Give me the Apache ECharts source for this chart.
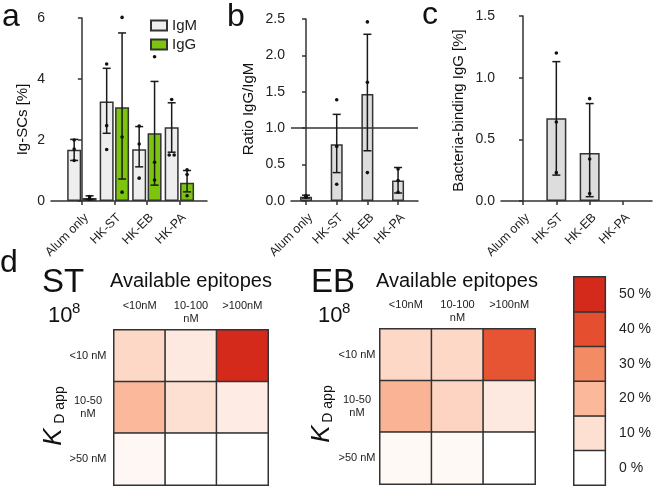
<!DOCTYPE html>
<html>
<head>
<meta charset="utf-8">
<script src="https://cdn.jsdelivr.net/npm/echarts@6/dist/echarts.min.js"></script>
<style>
  html, body { margin: 0; padding: 0; background: #fff; }
  #chart { width: 654px; height: 486px; }
</style>
</head>
<body>
<div id="chart"></div>
<script>
const cats = ['Alum only', 'HK-ST', 'HK-EB', 'HK-PA'];

// a: Ig-SCs [%]
const igmMean = [1.68, 3.26, 1.70, 2.42];
const igmLow = [1.33, 2.22, 1.12, 1.60];
const igmHigh = [2.02, 4.35, 2.44, 3.22];
const igmDots = [[2.0, 1.70, 1.33], [4.49, 2.47, 1.69], [2.46, 1.87, 0.75], [3.33, 1.51, 1.51]];
const iggMean = [0.10, 3.07, 2.22, 0.60];
const iggLow = [0.05, 0.72, 0.52, 0.30];
const iggHigh = [0.17, 5.51, 3.92, 1.00];
const iggDots = [[0.15, 0.09, 0.06], [6.02, 2.10, 0.29], [4.73, 1.27, 0.69], [1.02, 0.87, 0.17]];

// b: ratio IgG/IgM
const ratioMean = [0.06, 0.78, 1.47, 0.28];
const ratioLow = [0.04, 0.39, 0.69, 0.11];
const ratioHigh = [0.08, 1.19, 2.29, 0.46];
const ratioDots = [[0.07, 0.06, 0.05], [1.39, 0.75, 0.23], [2.46, 1.63, 0.39], [0.44, 0.28, 0.12]];
const ratioRef = 1;

// c: bacteria-binding IgG [%]
const bindMean = [null, 0.67, 0.39, null];
const bindLow = [null, 0.21, 0.035, null];
const bindHigh = [null, 1.13, 0.79, null];
const bindDots = [[], [1.20, 0.64, 0.23], [0.83, 0.34, 0.06], []];

// d: heatmaps (% of clones)
const epitopeBins = ['<10nM', '10-100\nnM', '>100nM'];
const kdBins = ['<10 nM', '10-50\nnM', '>50 nM'];
const stPct = [[12, 7, 50], [20, 10, 6], [2.5, 0, 0]];
const ebPct = [[12, 12, 39], [21, 13, 7], [2, 2, 0]];
const scaleTicks = [0, 10, 20, 30, 40, 50];
const scaleLabels = ['0 %', '10 %', '20 %', '30 %', '40 %', '50 %'];

const FONT = '"Liberation Sans", Arial, sans-serif';
const INK = '#333';
const lineStyle = { color: INK, width: 1.5 };

const chart = echarts.init(document.getElementById('chart'));

function catX(gridIndex, min, max) {
  return {
    type: 'value', gridIndex, min, max,
    axisLine: { show: true, onZero: false, lineStyle },
    axisTick: { show: true, length: 4, customValues: [0, 1, 2, 3], lineStyle },
    axisLabel: {
      customValues: [0, 1, 2, 3], formatter: v => cats[v],
      rotate: 45, margin: 10, verticalAlign: 'top',
      fontSize: 12.5, color: '#222', fontFamily: FONT
    },
    splitLine: { show: false }
  };
}

function valY(gridIndex, max, interval, digits) {
  return {
    type: 'value', gridIndex, min: 0, max, interval,
    axisLine: { show: true, lineStyle },
    axisTick: { show: true, length: 4, lineStyle },
    axisLabel: {
      margin: 6, fontSize: 14, color: '#222', fontFamily: FONT,
      formatter: v => v.toFixed(digits)
    },
    splitLine: { show: false }
  };
}

function bars(name, idx, mean, color, width) {
  return {
    name, type: 'bar', xAxisIndex: idx, yAxisIndex: idx,
    barWidth: width, barGap: '10%',
    itemStyle: { color, borderColor: INK, borderWidth: 1.5 },
    data: mean.map((v, i) => [i, v]).filter(d => d[1] != null)
  };
}

// error bar + individual dots, shifted sideways in px to sit on its bar
function errs(idx, low, high, dots, shift) {
  return {
    type: 'custom', xAxisIndex: idx, yAxisIndex: idx, z: 5,
    encode: { x: 0, y: [1, 2] },
    data: low.map((v, i) => [i, v, high[i]]).filter(d => d[1] != null),
    renderItem(params, api) {
      const i = api.value(0);
      const top = api.coord([i, api.value(2)]);
      const bot = api.coord([i, api.value(1)]);
      const x = top[0] + shift;
      const st = { stroke: '#1a1a1a', lineWidth: 1.5 };
      const kids = [
        { type: 'line', shape: { x1: x, y1: top[1], x2: x, y2: bot[1] }, style: st },
        { type: 'line', shape: { x1: x - 4, y1: top[1], x2: x + 4, y2: top[1] }, style: st },
        { type: 'line', shape: { x1: x - 4, y1: bot[1], x2: x + 4, y2: bot[1] }, style: st }
      ];
      const pts = dots[i];
      pts.forEach((v, k) => {
        const same = pts.filter(w => w === v).length;
        const rank = pts.slice(0, k).filter(w => w === v).length;
        const p = api.coord([i, v]);
        kids.push({
          type: 'circle',
          shape: { cx: x + (rank - (same - 1) / 2) * 5, cy: p[1], r: 1.8 },
          style: { fill: '#111' }
        });
      });
      return { type: 'group', children: kids };
    }
  };
}

function heatData(m) {
  const out = [];
  m.forEach((row, r) => row.forEach((v, c) => out.push([c, r, v])));
  return out;
}

function heatX(gridIndex) {
  return {
    type: 'category', gridIndex, position: 'top', data: epitopeBins,
    axisLine: { show: false }, axisTick: { show: false },
    axisLabel: {
      interval: 0, fontSize: 11, lineHeight: 13, color: '#222', fontFamily: FONT,
      verticalAlign: 'top', margin: 31
    }
  };
}

function heatY(gridIndex, margin) {
  return {
    type: 'category', gridIndex, inverse: true, data: kdBins,
    axisLine: { show: false }, axisTick: { show: false },
    axisLabel: {
      interval: 0, fontSize: 11, lineHeight: 13, color: '#222', fontFamily: FONT,
      align: 'center', margin
    }
  };
}

const cellStyle = { borderColor: INK, borderWidth: 1.5 };

function txt(text, x, y, size, extra) {
  return Object.assign({
    type: 'text', x, y,
    style: {
      text, fontSize: size, fontFamily: FONT, fill: '#111',
      align: 'left', verticalAlign: 'middle', textAlign: 'left', textVerticalAlign: 'middle'
    }
  }, extra || {});
}

function vtxt(text, x, y, size, style) {
  return {
    type: 'text', x, y, rotation: Math.PI / 2,
    style: Object.assign({
      text, fontSize: size, fontFamily: FONT, fill: '#111',
      align: 'center', verticalAlign: 'middle', textAlign: 'center', textVerticalAlign: 'middle'
    }, style || {})
  };
}

function centered(t) {
  t.style.align = 'center';
  t.style.textAlign = 'center';
  return t;
}

chart.setOption({
  animation: false,
  textStyle: { fontFamily: FONT },
  grid: [
    { left: 51, top: 18, width: 156, height: 183 },
    { left: 291, top: 19, width: 127, height: 182 },
    { left: 501, top: 16, width: 151, height: 185 },
    { left: 114, top: 330, width: 154, height: 155 },
    { left: 380, top: 329, width: 155, height: 155 },
    { left: 574, top: 277, width: 35, height: 208 }
  ],
  xAxis: [
    catX(0, -0.95, 3.85),
    catX(1, -0.49, 3.65),
    catX(2, -0.66, 3.87),
    heatX(3),
    heatX(4),
    { type: 'category', gridIndex: 5, data: [''], show: false }
  ],
  yAxis: [
    valY(0, 6, 2, 0),
    valY(1, 2.5, 0.5, 1),
    valY(2, 1.5, 0.5, 1),
    heatY(3, 26),
    heatY(4, 23),
    {
      type: 'category', gridIndex: 5, position: 'right', data: scaleLabels,
      axisLine: { show: false }, axisTick: { show: false },
      axisLabel: { interval: 0, fontSize: 14, color: '#222', fontFamily: FONT, margin: 14 }
    }
  ],
  legend: {
    data: ['IgM', 'IgG'], orient: 'vertical', left: 150, top: 18, padding: 0,
    itemWidth: 16, itemHeight: 10, itemGap: 4, icon: 'rect', selectedMode: false,
    textStyle: { fontSize: 15, lineHeight: 15, color: '#222', fontFamily: FONT }
  },
  visualMap: {
    type: 'continuous', show: false, min: 0, max: 50, seriesIndex: [8, 9, 10],
    inRange: { color: ['#ffffff', '#fde0d2', '#fbb89a', '#f38b64', '#e54e2f', '#d42a1c'] }
  },
  series: [
    bars('IgM', 0, igmMean, '#eeeeee', 14),
    bars('IgG', 0, iggMean, '#7cc40d', 14),
    errs(0, igmLow, igmHigh, igmDots, -7.7),
    errs(0, iggLow, iggHigh, iggDots, 7.7),
    Object.assign(bars('ratio', 1, ratioMean, '#dddddd', 12), {
      markLine: {
        silent: true, symbol: 'none', label: { show: false },
        lineStyle: { color: INK, width: 1.5, type: 'solid' },
        data: [{ yAxis: ratioRef }]
      }
    }),
    errs(1, ratioLow, ratioHigh, ratioDots, 0),
    bars('binding', 2, bindMean, '#dddddd', 20),
    errs(2, bindLow, bindHigh, bindDots, 0),
    { type: 'heatmap', xAxisIndex: 3, yAxisIndex: 3, data: heatData(stPct), itemStyle: cellStyle },
    { type: 'heatmap', xAxisIndex: 4, yAxisIndex: 4, data: heatData(ebPct), itemStyle: cellStyle },
    {
      type: 'heatmap', xAxisIndex: 5, yAxisIndex: 5,
      data: scaleTicks.map((v, i) => [0, i, v]), itemStyle: cellStyle
    }
  ],
  graphic: [
    txt('a', 2, 17, 32),
    txt('b', 227, 17, 32),
    txt('c', 422, 15, 32),
    txt('d', 0, 263, 32),
    vtxt('Ig-SCs [%]', 23, 119.5, 15),
    vtxt('Ratio IgG/IgM', 248.5, 109, 15),
    vtxt('Bacteria-binding IgG [%]', 459, 110.5, 15),
    txt('ST', 42, 283, 33),
    txt('EB', 311, 283, 33),
    centered(txt('Available epitopes', 191, 281, 20)),
    centered(txt('Available epitopes', 457, 281, 20)),
    txt('10', 48, 316, 22),
    txt('8', 72, 309, 15),
    txt('10', 318, 316, 22),
    txt('8', 342, 309, 15),
    vtxt('K', 54, 437, 26, { fontStyle: 'italic' }),
    vtxt('D app', 60, 405, 14),
    vtxt('K', 322, 434, 26, { fontStyle: 'italic' }),
    vtxt('D app', 328, 404, 14)
  ]
});
</script>
</body>
</html>
